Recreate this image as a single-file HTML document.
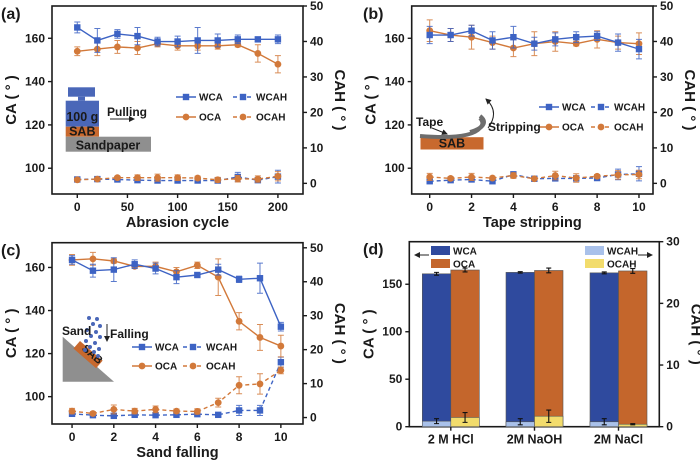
<!DOCTYPE html>
<html><head><meta charset="utf-8">
<style>
html,body{margin:0;padding:0;background:#fff;}
svg{display:block;font-family:"Liberation Sans",Arial,sans-serif;font-weight:bold;}
</style></head>
<body>
<svg id="fig" width="700" height="462" viewBox="0 0 700 462" xmlns="http://www.w3.org/2000/svg">
<defs>
<marker id="ah" markerWidth="6" markerHeight="6" refX="5" refY="3" orient="auto"><path d="M0,0 L6,3 L0,6 z" fill="#222"/></marker>
</defs>
</svg>
<script>
// ---------- Panel (a) data ----------
const aX = [0,20,40,60,80,100,120,140,160,180,200];
const aWCA = [165,159,162,161,158.5,158.5,159,159,159.5,159.5,159.5];
const aWCAerr = [2.5,5.5,2,4,2,2.5,6,3,2,1,2];
const aOCA = [154,155,156,155.5,157.5,156.5,156.5,156.5,157,153,148];
const aOCAerr = [2,3,3,3,1.5,2,2,1.5,1,4,4];
const aWCAH = [1.1,1.2,1.1,0.9,0.8,0.8,0.8,0.8,1.8,0.9,1.9];
const aWCAHerr = [0.3,0.3,0.4,0.5,0.4,0.4,0.4,0.5,1.3,0.6,1.8];
const aOCAH = [1.0,1.2,1.6,1.6,1.6,1.6,1.5,1.0,1.3,1.2,2.0];
const aOCAHerr = [0.3,0.3,0.4,0.8,1.0,0.8,0.5,0.7,0.9,0.9,1.3];
const aXTicks = [0,50,100,150,200];
// ---------- Panel (b) data ----------
const bX = [0,1,2,3,4,5,6,7,8,9,10];
const bWCA = [161.5,161.5,163.5,159,160.5,157.5,159.5,160.5,161,158,155];
const bWCAerr = [4,3,2.5,4,5,3,3,2.5,2,4,4.5];
const bOCA = [163.5,161.5,160.5,158,155.5,157.5,158.5,157.5,159.5,158,157.5];
const bOCAerr = [5,3,5.5,3,4,5.5,4.5,1,4,3,5];
const bWCAH = [0.6,0.9,1.1,0.6,2.5,1.3,1.4,1.4,1.5,2.5,2.7];
const bWCAHerr = [0.5,0.5,0.6,0.5,0.8,0.4,0.6,0.6,0.4,1.5,2];
const bOCAH = [1.8,1.4,1.8,1.5,2.2,1.3,2.2,1.5,2.0,2.4,2.5];
const bOCAHerr = [1,0.5,1,0.4,0.8,0.3,1.2,1.2,0.5,1.2,1.2];
const bXTicks = [0,2,4,6,8,10];
// ---------- Panel (c) data ----------
const cX = [0,1,2,3,4,5,6,7,8,9,10];
const cWCA = [163.5,158.5,159,161.5,159.5,155.5,156.5,159,154.5,155,132.5];
const cWCAerr = [2,3,5.5,2,2.5,3,1,2.5,1.5,7,2];
const cOCA = [163.5,164,163,160.5,160.5,158,161,155.5,135,127.5,123.5];
const cOCAerr = [2.5,3,1,1,2,2,1.5,8.5,4,6,5];
const cWCAH = [1.1,0.7,0.5,0.8,0.7,0.8,1.0,0.8,2.1,2.1,16.3];
const cWCAHerr = [0.4,0.4,0.4,0.4,0.4,0.4,0.4,0.3,1.5,1.5,1.5];
const cOCAH = [1.9,1.2,2.4,1.9,2.4,1.9,1.8,4.4,9.5,9.9,13.9];
const cOCAHerr = [0.8,0.5,1.3,0.8,1,0.6,0.8,1.3,2.5,3,1];
const cXTicks = [0,2,4,6,8,10];
// ---------- Panel (d) data ----------
const dCats = ["2 M HCl","2M NaOH","2M NaCl"];
const dWCA = [161,162.5,162];
const dWCAerr = [1.5,0.7,1];
const dOCA = [165,164.5,164];
const dOCAerr = [2,2.5,2.5];
const dWCAH = [0.9,0.8,0.8];
const dWCAHerr = [0.4,0.5,0.5];
const dOCAH = [1.5,1.7,0.4];
const dOCAHerr = [0.8,1,0.1];
const caTicks = [100,120,140,160];
const cahTicks = [0,10,20,30,40,50];
const dCaTicks = [0,50,100,150];
const dCahTicks = [0,10,20,30];

const NS="http://www.w3.org/2000/svg";
const svg=document.getElementById('fig');
const BLUE="#3d63c4", ORANGE="#d2793a", INK="#1a1a1a";
function el(tag,attrs,parent){const e=document.createElementNS(NS,tag);for(const k in attrs)e.setAttribute(k,attrs[k]);(parent||svg).appendChild(e);return e;}
function txt(s,x,y,size,anchor,parent,extra){const t=el('text',Object.assign({x:x,y:y,'font-size':size,'text-anchor':anchor||'middle',fill:INK},extra||{}),parent);t.textContent=s;return t;}
function lin(d0,d1,p0,p1){return v=>p0+(v-d0)*(p1-p0)/(d1-d0);}

function axesFrame(g,L,R,T,B,xs,ys,ys2,xTicks,yTicks,y2Ticks,xTitle,letter,lx){
  el('rect',{x:L,y:T,width:R-L,height:B-T,fill:'none',stroke:INK,'stroke-width':1.6},g);
  xTicks.forEach(v=>{const x=xs(v);
    const t=el('line',{x1:x,x2:x,y1:B,y2:B+4,stroke:INK,'stroke-width':1.4},g);
    
    txt(String(v),x,B+17,12,'middle',g);});
  yTicks.forEach(v=>{const y=ys(v);
    el('line',{x1:L-4,x2:L,y1:y,y2:y,stroke:INK,'stroke-width':1.4},g);
    txt(String(v),L-7,y+4,12,'end',g);});
  y2Ticks.forEach(v=>{const y=ys2(v);
    el('line',{x1:R,x2:R+4,y1:y,y2:y,stroke:INK,'stroke-width':1.4},g);
    txt(String(v),R+7,y+4,12,'start',g);});
  const xt=txt(xTitle,(L+R)/2,B+33,14.5,'middle',g);
  
  const yt=txt('CA ( ° )',0,0,15,'middle',g,{transform:`translate(${L-36},${(T+B)/2}) rotate(-90)`});
  
  const y2=txt('CAH ( ° )',0,0,15,'middle',g,{transform:`translate(${R+32},${(T+B)/2}) rotate(90)`});
  
  const pl=txt(letter,lx,T+13,16,'start',g);
  
}

function marker(g,x,y,color,shape){
  if(shape==='sq') return el('rect',{x:x-3.2,y:y-3.2,width:6.4,height:6.4,fill:color},g);
  return el('circle',{cx:x,cy:y,r:3.4,fill:color},g);
}

function series(g,name,xsArr,vals,errs,xs,ys,color,shape,dashed){
  const sg=el('g',{},g);
  
  
  const pts=xsArr.map((x,i)=>[xs(x),ys(vals[i])]);
  xsArr.forEach((x,i)=>{const px=xs(x),y1=ys(vals[i]+errs[i]),y2=ys(vals[i]-errs[i]);
    el('path',{d:`M${px},${y1}V${y2}M${px-3},${y1}h6M${px-3},${y2}h6`,stroke:color,'stroke-width':1,fill:'none',opacity:0.85},sg);});
  el('polyline',{points:pts.map(p=>p.join(',')).join(' '),fill:'none',stroke:color,'stroke-width':1.4,'stroke-dasharray':dashed?'4,3':'none'},sg);
  pts.forEach(p=>{const m=marker(sg,p[0],p[1],color,shape);
    
    });
}

function legend(g,x,y,dx,dy){
  const items=[[x,y,'WCA',BLUE,'sq',false],[x+dx,y,'WCAH',BLUE,'sq',true],[x,y+dy,'OCA',ORANGE,'c',false],[x+dx,y+dy,'OCAH',ORANGE,'c',true]];
  items.forEach(it=>{const lg=el('g',{},g);
    
    
    el('line',{x1:it[0],x2:it[0]+20,y1:it[1],y2:it[1],stroke:it[3],'stroke-width':1.4,'stroke-dasharray':it[5]?'4,3':'none'},lg);
    marker(lg,it[0]+10,it[1],it[3],it[4]);
    txt(it[2],it[0]+23,it[1]+3.5,10,'start',lg);});
}

function linePanel(name,L,R,T,B,caRange,cahRange,xRange,X,W,We,O,Oe,WH,WHe,OH,OHe,xTicks,xTitle,letter,lx,lgx,lgy,lgdx,lgdy){
  const g=el('g',{});
  const xs=lin(xRange[0],xRange[1],L,R), ys=lin(caRange[0],caRange[1],B,T), ys2=lin(cahRange[0],cahRange[1],B,T);
  axesFrame(g,L,R,T,B,xs,ys,ys2,xTicks,caTicks,cahTicks,xTitle,letter,lx);
  series(g,'wcah-series',X,WH,WHe,xs,ys2,BLUE,'sq',true);
  series(g,'ocah-series',X,OH,OHe,xs,ys2,ORANGE,'c',true);
  series(g,'oca-series',X,O,Oe,xs,ys,ORANGE,'c',false);
  series(g,'wca-series',X,W,We,xs,ys,BLUE,'sq',false);
  legend(g,lgx,lgy,lgdx,lgdy);
  return g;
}

// Panel a
const ga=linePanel('panel-a-abrasion',52,303,6,194,[88.1,174.9],[-3,50],[-25.2,225],aX,aWCA,aWCAerr,aOCA,aOCAerr,aWCAH,aWCAHerr,aOCAH,aOCAHerr,aXTicks,'Abrasion cycle','(a)',1,176,97,57,20);
(function(){const g=el('g',{},ga);
 el('rect',{x:68,y:87.3,width:27,height:9.4,fill:'#4a67b8'},g);
 el('rect',{x:78,y:96.7,width:7,height:4,fill:'#4a67b8'},g);
 el('rect',{x:65.7,y:100.7,width:33.3,height:26,fill:'#4a67b8'},g);
 el('rect',{x:65.7,y:126.7,width:33.3,height:10,fill:'#c8692e'},g);
 el('rect',{x:65.7,y:136.7,width:85.3,height:15,fill:'#8f8f8f'},g);
 txt('100 g',82.3,121,12.5,'middle',g);txt('SAB',82.3,135.5,12.5,'middle',g);txt('Sandpaper',108,149.5,12.5,'middle',g);
 txt('Pulling',107,116,12,'start',g);
 el('line',{x1:110,y1:119,x2:134,y2:119,stroke:'#222','stroke-width':1,'marker-end':'url(#ah)'},g);})();

// Panel b
const gb=linePanel('panel-b-tape',411.7,653,6,194,[88.1,174.9],[-3,50],[-0.86,10.67],bX,bWCA,bWCAerr,bOCA,bOCAerr,bWCAH,bWCAHerr,bOCAH,bOCAHerr,bXTicks,'Tape stripping','(b)',363,539,107,52,20);
(function(){const g=el('g',{},gb);
 el('rect',{x:421,y:137.7,width:62,height:11.3,fill:'#c8692e',stroke:'#c8692e'},g);
 txt('SAB',452,147.5,12.5,'middle',g);
 el('path',{d:'M420,136 Q470,140 480,128 Q488,122 480,116',fill:'none',stroke:'#6d6d6d','stroke-width':4},g);
 el('path',{d:'M470,132 Q488,127 480,118',fill:'none',stroke:'#6d6d6d','stroke-width':4},g);
 txt('Tape',416,126,12,'start',g);
 el('line',{x1:432,y1:128,x2:447,y2:134,stroke:'#222','stroke-width':1,'marker-end':'url(#ah)'},g);
 el('path',{d:'M488,128 Q500,112 486,99',fill:'none',stroke:'#222','stroke-width':1,'marker-end':'url(#ah)'},g);
 txt('Stripping',488,131,12,'start',g);})();

// Panel c
const gc=linePanel('panel-c-sand',52,303,242.7,424,[87.3,171.5],[-1.9,51.5],[-0.96,11.06],cX,cWCA,cWCAerr,cOCA,cOCAerr,cWCAH,cWCAHerr,cOCAH,cOCAHerr,cXTicks,'Sand falling','(c)',1,132,347,51,19);
(function(){const g=el('g',{},gc);
 el('polygon',{points:'62.7,336.7 62.7,381.7 114,381.7',fill:'#8f8f8f'},g);
 el('rect',{x:0,y:0,width:30,height:10,fill:'#c8692e',transform:'translate(80,341) rotate(41)'},g);
 txt('SAB',0,0,11,'middle',g,{transform:'translate(90,357) rotate(41)'});
 const dots=[[89,318],[97,319],[93,324],[100,326],[87,330],[96,332],[91,336],[100,337],[86,341],[95,343],[90,347],[99,349],[94,352],[98,356],[85,350]];
 dots.forEach(d=>el('circle',{cx:d[0],cy:d[1],r:2,fill:'#4a67b8'},g));
 txt('Sand',62,335,12,'start',g);
 el('line',{x1:107,y1:324,x2:107,y2:341,stroke:'#222','stroke-width':1,'marker-end':'url(#ah)'},g);
 txt('Falling',110,338,12,'start',g);})();

// Panel d
(function(){const g=el('g',{});
 const L=409.3,R=659.3,T=241.7,B=426.7;
 const ys=lin(0,194.8,B,T), ys2=lin(0,30,B,T);
 const centers=[450.8,534.5,618.5], bw=28.5;
 axesFrame(g,L,R,T,B,v=>v,ys,ys2,[],dCaTicks,dCahTicks,'','(d)',363);
 dCats.forEach((c,i)=>{const t=txt(c,centers[i],B+17,12.5,'middle',g);
  el('line',{x1:centers[i],x2:centers[i],y1:B,y2:B+4,stroke:INK,'stroke-width':1.4},g);});
 function bar(name,x,y0,y1,fill){const r=el('rect',{x:x,y:Math.min(y0,y1),width:bw,height:Math.abs(y1-y0),fill:fill,stroke:'#555','stroke-width':0.6},g);
  }
 function err(x,yv,e,sc){el('path',{d:`M${x},${sc(yv+e)}V${sc(yv-e)}M${x-2.5},${sc(yv+e)}h5M${x-2.5},${sc(yv-e)}h5`,stroke:'#111','stroke-width':1.1,fill:'none'},g);}
 dCats.forEach((c,i)=>{const xw=centers[i]-bw,xo=centers[i];
  bar('bar-wca',xw,ys(0),ys(dWCA[i]),'#2f4a9e');
  bar('bar-oca',xo,ys(0),ys(dOCA[i]),'#c4662c');
  bar('bar-wcah',xw,ys2(0),ys2(dWCAH[i]),'#a9c1ea');
  bar('bar-ocah',xo,ys2(0),ys2(dOCAH[i]),'#f2dc6c');
  err(xw+bw/2,dWCA[i],dWCAerr[i],ys);err(xo+bw/2,dOCA[i],dOCAerr[i],ys);
  err(xw+bw/2,dWCAH[i],dWCAHerr[i],ys2);err(xo+bw/2,dOCAH[i],dOCAHerr[i],ys2);});
 const lg=[[431,246,'#2f4a9e','WCA'],[431,259,'#c4662c','OCA'],[585,246,'#a9c1ea','WCAH'],[585,259,'#f2dc6c','OCAH']];
 lg.forEach(l=>{const e=el('g',{},g);
  el('rect',{x:l[0],y:l[1],width:19,height:9,fill:l[2]},e);txt(l[3],l[0]+22,l[1]+8.5,10,'start',e);});
 el('line',{x1:429,y1:255,x2:415,y2:255,stroke:'#222','stroke-width':1,'marker-end':'url(#ah)'},g);
 el('line',{x1:638,y1:255,x2:652,y2:255,stroke:'#222','stroke-width':1,'marker-end':'url(#ah)'},g);
})();
</script>
</body></html>
